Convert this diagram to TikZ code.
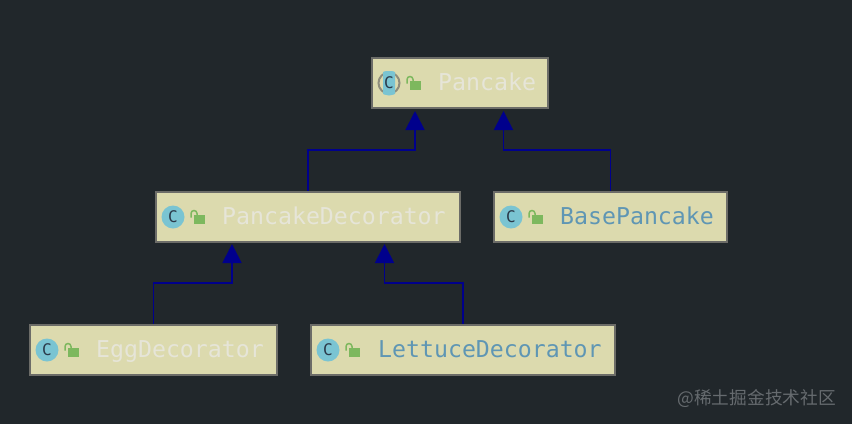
\documentclass[tikz,border=0pt]{standalone}
\usepackage{fontspec}
\setmonofont{DejaVu Sans Mono}
\newfontfamily\cjk{Noto Sans CJK SC}
\definecolor{bgc}{HTML}{21272B}
\definecolor{boxc}{HTML}{DCDAAE}
\definecolor{edgec}{HTML}{6C6C68}
\definecolor{arrc}{HTML}{00008C}
\definecolor{pale}{HTML}{E6E5D8}
\definecolor{bluet}{HTML}{5F96B4}
\definecolor{iconc}{HTML}{7AC4D2}
\definecolor{lockc}{HTML}{7DB85E}
\definecolor{cdark}{HTML}{2B3A4A}
\definecolor{markc}{HTML}{666B6F}
\usetikzlibrary{arrows.meta}
\tikzset{
  x=1pt,y=-1pt,
  classbox/.style={draw=edgec,line width=2.2pt,fill=boxc,minimum height=50pt,inner sep=0pt,anchor=north west},
  label/.style={font=\fontsize{23.2}{23.2}\selectfont\ttfamily,anchor=base west,inner sep=0pt},
  conn/.style={draw=arrc,line width=1.8pt},
  tip/.style={conn,-{Triangle[length=19pt,width=19pt,fill=arrc]}},
}
\newcommand{\lockicon}[2]{%
  \fill[lockc] (#1+21,#2-2) rectangle (#1+32,#2+7);
  \draw[lockc,line width=1.5pt] (#1+24,#2-2) -- (#1+24,#2-3.5) arc[start angle=0,end angle=-180,radius=3] -- (#1+18,#2+0.5);
}
\newcommand{\cletter}[2]{%
  \node[font=\fontsize{16}{16}\selectfont\ttfamily,text=cdark,inner sep=0pt] (ic#1) at (#1,#2) {C};
}
\newcommand{\clsicon}[2]{%
  \fill[iconc] (#1,#2) circle (11.5);
  \cletter{#1}{#2}
  \lockicon{#1}{#2}
}
\begin{document}
\begin{tikzpicture}
\useasboundingbox[fill=bgc] (0,0) rectangle (852,424);
% boxes
\node[classbox,minimum width=175.5pt] (pancake) at (371,57) {};
\node[classbox,minimum width=303.5pt] (pd) at (155.2,190.7) {};
\node[classbox,minimum width=232.5pt] (base) at (493.2,190.7) {};
\node[classbox,minimum width=246.5pt] (egg) at (29.2,323.7) {};
\node[classbox,minimum width=303.5pt] (lettuce) at (310.2,323.7) {};
% icons
\draw[edgec!70!boxc,line width=2pt] (389,83) circle (10.5);
\begin{scope}
  \clip (383,71) rectangle (395,95);
  \fill[iconc] (389,83) circle (12.5);
\end{scope}
\cletter{389}{83}
\lockicon{389}{83}
\clsicon{173}{217}
\clsicon{511}{217}
\clsicon{47}{350}
\clsicon{328}{350}
% labels
\node[label,text=pale] (t1) at (438,90) {Pancake};
\node[label,text=pale] (t2) at (222,224) {PancakeDecorator};
\node[label,text=bluet] (t3) at (560,224) {BasePancake};
\node[label,text=pale] (t4) at (96,357) {EggDecorator};
\node[label,text=bluet] (t5) at (378,357) {LettuceDecorator};
% connectors
\coordinate (a1) at (415,111); \coordinate (b1) at (415,150);
\coordinate (a2) at (503.5,111); \coordinate (b2) at (503.5,150);
\coordinate (a3) at (232,244); \coordinate (b3) at (232,283);
\coordinate (a4) at (384.5,244); \coordinate (b4) at (384.5,283);
\draw[tip] (pd.north) |- (b1) -- (a1);
\draw[tip] (base.north) |- (b2) -- (a2);
\draw[tip] (egg.north) |- (b3) -- (a3);
\draw[tip] (lettuce.north) |- (b4) -- (a4);
% watermark
\node[font=\fontsize{17.7}{18}\cjk,text=markc,anchor=base east,inner sep=0pt] (wm) at (836,404) {@稀土掘金技术社区};
\end{tikzpicture}
\end{document}
